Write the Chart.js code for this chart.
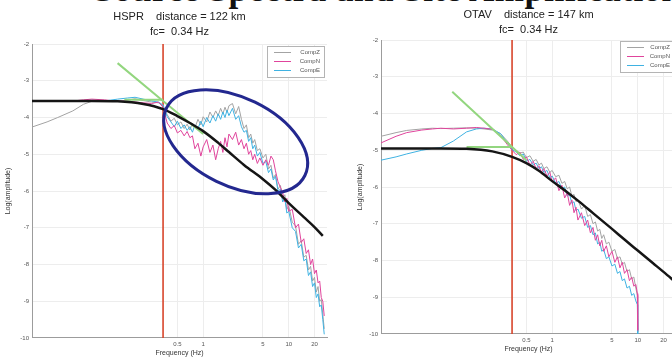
<!DOCTYPE html>
<html>
<head>
<meta charset="utf-8">
<script src="https://cdn.jsdelivr.net/npm/chart.js@4.4.1/dist/chart.umd.min.js"></script>
<style>
  html, body { margin: 0; padding: 0; background: #fff; width: 672px; height: 358px; overflow: hidden; }
  #slideTitle { position: absolute; left: 94px; top: -27px; white-space: nowrap; font: bold 35px "Liberation Serif", serif; line-height: 34px; color: #111; letter-spacing: 0.5px; }
  #hspr { position: absolute; left: 0; top: 0; }
  #otav { position: absolute; left: 350px; top: 0; }
</style>
</head>
<body>
<div id="slideTitle">Source Spectra and Site Amplification</div>
<canvas id="hspr" width="340" height="358"></canvas>
<canvas id="otav" width="340" height="358"></canvas>
<script>
// ---- datos ----
const FC = 0.34;
const FREQ_TICKS = [0.5, 1, 5, 10, 20];
const LEGEND_LABELS = ['CompZ', 'CompN', 'CompE'];

// HSPR (panel izquierdo)
const HSPR_FREQ = [0.01, 0.015, 0.02, 0.03, 0.04, 0.05, 0.07, 0.1, 0.13, 0.16, 0.2, 0.25, 0.3, 0.34,
  0.38, 0.42, 0.46, 0.5, 0.55, 0.6, 0.65, 0.7, 0.75, 0.8, 0.87, 0.94,
  1.0, 1.1, 1.2, 1.3, 1.4, 1.5, 1.6, 1.7, 1.8, 1.9, 2.0, 2.2, 2.4, 2.6, 2.8,
  3.0, 3.2, 3.4, 3.6, 3.8, 4.0, 4.3, 4.6, 5.0, 5.4, 5.8, 6.2, 6.6, 7.0, 7.5, 8.0, 8.5, 9.0, 9.5,
  10, 11, 12, 13, 14, 15, 16, 17, 18, 19, 20, 21, 22, 23, 24, 25, 26];
const HSPR_Z = [-4.26, -4.12, -4.0, -3.82, -3.64, -3.56, -3.54, -3.55, -3.53, -3.49, -3.54, -3.58, -3.6, -3.68,
  -3.92, -4.1, -4.02, -4.2, -4.12, -4.3, -4.18, -4.34, -4.15, -4.28, -4.05, -4.2,
  -3.98, -4.12, -3.85, -4.0, -3.82, -3.95, -3.75, -3.9, -3.72, -3.86, -3.68, -3.62, -3.9, -3.7, -4.05,
  -4.3, -4.2, -4.55, -4.45, -4.7, -4.6, -4.9, -4.85, -5.1, -5.0, -5.4, -5.3, -5.65, -5.55, -5.95, -5.85, -6.2, -6.1, -6.5,
  -6.4, -6.85, -6.95, -7.45, -7.35, -7.8, -7.75, -8.15, -8.05, -8.45, -8.35, -8.75, -8.6, -9.0, -8.95, -9.35, -9.75];
const HSPR_N = [-3.55, -3.55, -3.54, -3.55, -3.52, -3.5, -3.52, -3.56, -3.55, -3.58, -3.6, -3.62, -3.58, -3.72,
  -4.15, -4.3, -4.22, -4.42, -4.35, -4.5, -4.38, -4.55, -4.5, -4.85, -4.7, -5.05,
  -4.8, -4.6, -4.95, -4.75, -5.15, -4.85, -4.65, -4.95, -4.55, -4.8, -4.45, -4.6, -4.4, -4.75, -4.6,
  -4.85, -4.7, -5.0, -4.9, -5.15, -5.0, -5.25, -5.1, -5.3, -5.15, -5.3, -5.05, -5.15, -5.45, -5.75, -5.9, -6.05, -6.3, -6.2,
  -6.55, -6.5, -7.0, -6.9, -7.4, -7.3, -7.7, -7.6, -8.0, -7.85, -8.25, -8.15, -8.5, -8.45, -8.9, -9.0, -9.4];
const HSPR_E = [-3.56, -3.56, -3.55, -3.54, -3.55, -3.53, -3.55, -3.5, -3.47, -3.45, -3.5, -3.55, -3.58, -3.66,
  -3.98, -4.12, -4.25, -4.1, -4.3, -4.2, -4.35, -4.25, -4.4, -4.2, -4.3, -4.1,
  -4.25, -4.0, -4.15, -3.95, -4.1, -3.9, -4.05, -3.85, -4.0, -3.8, -3.95, -3.75, -4.05, -3.95, -4.25,
  -4.4, -4.35, -4.65, -4.55, -4.85, -4.75, -5.05, -4.95, -5.25, -5.2, -5.5, -5.4, -5.7, -5.6, -6.0, -5.95, -6.3, -6.2, -6.6,
  -6.55, -7.0, -7.1, -7.55, -7.45, -7.9, -7.85, -8.3, -8.2, -8.6, -8.5, -8.9, -8.8, -9.15, -9.1, -9.5, -9.9];
const HSPR_MODEL_F = [0.01, 0.05, 0.1, 0.2, 0.34, 0.5, 0.7, 1, 1.5, 2, 3, 5, 7, 10, 15, 20, 25];
const HSPR_MODEL = [-3.55, -3.55, -3.56, -3.63, -3.77, -3.96, -4.15, -4.37, -4.69, -4.94, -5.29, -5.68, -5.97, -6.33, -6.71, -6.98, -7.22];
const HSPR_FLAT_F = [0.12, 0.34];
const HSPR_FLAT = [-3.52, -3.52];
const HSPR_SLOPE_F = [0.1, 0.34, 1.0];
const HSPR_SLOPE = [-2.52, -3.55, -4.45];

// OTAV (panel derecho)
const OTAV_FREQ = [0.01, 0.015, 0.02, 0.03, 0.04, 0.05, 0.07, 0.1, 0.13, 0.16, 0.2, 0.25, 0.3, 0.34,
  0.38, 0.42, 0.46, 0.5, 0.55, 0.6, 0.65, 0.7, 0.75, 0.8, 0.87, 0.94,
  1.0, 1.1, 1.2, 1.3, 1.4, 1.5, 1.6, 1.7, 1.8, 1.9, 2.0, 2.2, 2.4, 2.6, 2.8,
  3.0, 3.2, 3.4, 3.6, 3.8, 4.0, 4.3, 4.6, 5.0, 5.4, 5.8, 6.2, 6.6, 7.0, 7.5, 8.0, 8.5, 9.0, 9.5, 9.9, 10.0];
const OTAV_Z = [-4.62, -4.52, -4.46, -4.42, -4.4, -4.41, -4.4, -4.39, -4.4, -4.42, -4.45, -4.55, -4.75, -4.92,
  -5.0, -5.08, -5.05, -5.2, -5.15, -5.3, -5.25, -5.4, -5.35, -5.5, -5.45, -5.6,
  -5.55, -5.72, -5.68, -5.9, -5.85, -6.05, -6.0, -6.25, -6.2, -6.4, -6.35, -6.6, -6.5, -6.8, -6.75,
  -7.0, -6.95, -7.2, -7.15, -7.4, -7.3, -7.55, -7.5, -7.75, -7.7, -7.95, -7.9, -8.1, -8.05, -8.3, -8.25, -8.5, -8.45, -8.75, -8.95, -9.95];
const OTAV_N = [-4.8, -4.62, -4.52, -4.45, -4.42, -4.4, -4.42, -4.4, -4.38, -4.4, -4.43, -4.6, -4.85, -5.0,
  -5.12, -5.05, -5.25, -5.18, -5.4, -5.3, -5.5, -5.42, -5.6, -5.5, -5.7, -5.6,
  -5.85, -5.75, -6.1, -5.95, -6.3, -6.15, -6.5, -6.35, -6.7, -6.55, -6.9, -6.7, -7.05, -6.9, -7.25,
  -7.1, -7.45, -7.3, -7.6, -7.45, -7.75, -7.6, -7.9, -7.75, -8.05, -7.9, -8.2, -8.05, -8.35, -8.25, -8.55, -8.45, -8.7, -8.65, -8.9, -9.9];
const OTAV_E = [-5.27, -5.18, -5.1, -5.0, -4.95, -4.93, -4.75, -4.5, -4.42, -4.4, -4.42, -4.55, -4.8, -4.98,
  -5.05, -5.15, -5.1, -5.3, -5.25, -5.4, -5.35, -5.5, -5.45, -5.6, -5.55, -5.75,
  -5.7, -5.9, -5.85, -6.05, -6.0, -6.25, -6.2, -6.45, -6.4, -6.65, -6.6, -6.85, -6.8, -7.1, -7.05,
  -7.3, -7.25, -7.55, -7.5, -7.75, -7.7, -7.95, -7.9, -8.15, -8.1, -8.35, -8.3, -8.55, -8.5, -8.75, -8.7, -8.95, -8.9, -9.1, -9.2, -10];
const OTAV_MODEL_F = [0.01, 0.05, 0.1, 0.2, 0.34, 0.5, 0.7, 1, 1.5, 2, 3, 5, 7, 10, 15, 20, 28];
const OTAV_MODEL = [-4.95, -4.95, -4.96, -5.03, -5.18, -5.35, -5.56, -5.84, -6.14, -6.37, -6.71, -7.14, -7.43, -7.73, -8.07, -8.31, -8.6];
const OTAV_FLAT_F = [0.1, 0.34];
const OTAV_FLAT = [-4.91, -4.91];
const OTAV_SLOPE_F = [0.068, 0.34, 0.5];
const OTAV_SLOPE = [-3.41, -4.91, -5.27];

const FONT = '"Liberation Sans", Arial, sans-serif';
Chart.defaults.font.family = FONT;

// Leyenda con recuadro, estilo MATLAB
const boxLegend = {
  id: 'boxLegend',
  afterDraw(chart, args, opts) {
    const ctx = chart.ctx, area = chart.chartArea;
    const items = chart.data.datasets.filter(d => d.inLegend);
    const rowH = 9, w = opts.width, h = items.length * rowH + 4;
    const x0 = Math.round(area.right - opts.right - w), y0 = Math.round(area.top + opts.top);
    ctx.save();
    ctx.fillStyle = '#fff';
    ctx.fillRect(x0, y0, w, h);
    ctx.strokeStyle = '#b4b4b4';
    ctx.lineWidth = 1;
    ctx.strokeRect(x0 + 0.5, y0 + 0.5, w, h);
    ctx.font = '6px ' + FONT;
    ctx.textAlign = 'right';
    ctx.textBaseline = 'middle';
    items.forEach((d, i) => {
      const y = y0 + 2 + rowH * i + rowH / 2;
      ctx.strokeStyle = d.borderColor;
      ctx.beginPath();
      ctx.moveTo(x0 + 7, y);
      ctx.lineTo(x0 + 24, y);
      ctx.stroke();
      ctx.fillStyle = '#555';
      ctx.fillText(d.label, x0 + w - 4, y);
    });
    ctx.restore();
  }
};

// Elipse azul que resalta la zona de amplificación
const ellipseMark = {
  id: 'ellipseMark',
  afterDatasetsDraw(chart, args, opts) {
    if (!opts.show) return;
    const ctx = chart.ctx;
    const cx = chart.scales.x.getPixelForValue(opts.f);
    const cy = chart.scales.y.getPixelForValue(opts.v);
    ctx.save();
    ctx.strokeStyle = '#23288f';
    ctx.lineWidth = 3;
    ctx.beginPath();
    ctx.ellipse(cx, cy, opts.rx, opts.ry, opts.rot * Math.PI / 180, 0, Math.PI * 2);
    ctx.stroke();
    ctx.restore();
  }
};

function spectrumPanel(canvasId, cfg) {
  const pts = (xs, ys) => xs.map((x, i) => ({ x, y: ys[i] }));
  const line = (label, xs, ys, color, width, order, extra) => Object.assign({
    label, data: pts(xs, ys), borderColor: color, backgroundColor: color,
    borderWidth: width, pointRadius: 0, fill: false, tension: 0, order
  }, extra || {});

  const datasets = [
    line(LEGEND_LABELS[0], cfg.freq, cfg.z, '#a3a3a3', 1, 4, { inLegend: true }),
    line(LEGEND_LABELS[1], cfg.freq, cfg.n, '#e0449c', 1, 2, { inLegend: true }),
    line(LEGEND_LABELS[2], cfg.freq, cfg.e, '#3fb2e2', 1, 3, { inLegend: true }),
    line('model', cfg.modelF, cfg.model, '#151515', 2.5, 0, { cubicInterpolationMode: 'monotone' }),
    line('flat', cfg.flatF, cfg.flat, '#93d67f', 2, 1),
    line('slope', cfg.slopeF, cfg.slope, '#93d67f', 2, 1),
    line('fc', [FC, FC], [-10, -2], '#d8452c', 1.6, 5)
  ];

  return new Chart(document.getElementById(canvasId), {
    type: 'line',
    data: { datasets },
    options: {
      responsive: false,
      animation: false,
      devicePixelRatio: 1,
      layout: { padding: { left: 0, top: 0, right: cfg.padRight, bottom: 0 } },
      plugins: {
        legend: { display: false },
        tooltip: { enabled: false },
        title: {
          display: true, text: cfg.title, fullSize: false, color: '#222',
          font: { size: 11, weight: 'normal', lineHeight: 1.364 },
          padding: { top: cfg.titleTop, bottom: cfg.titleBottom }
        },
        boxLegend: { width: cfg.legendW, right: cfg.legendRight, top: cfg.legendTop },
        ellipseMark: cfg.ellipse || { show: false }
      },
      scales: {
        x: {
          type: 'logarithmic', min: 0.01, max: 28, bounds: 'data',
          afterBuildTicks: s => { s.ticks = FREQ_TICKS.map(v => ({ value: v })); },
          afterFit: s => { s.height = cfg.xAxisH; },
          ticks: { callback: v => String(v), autoSkip: false, maxRotation: 0, padding: 3, color: '#555', font: { size: 6 } },
          grid: { color: '#ededed', drawTicks: false },
          border: { color: '#9c9c9c' },
          title: { display: true, text: 'Frequency (Hz)', color: '#333', font: { size: 7 }, padding: { top: 0, bottom: cfg.xTitlePad } }
        },
        y: {
          min: -10, max: -2,
          afterFit: s => { s.width = cfg.yAxisW; },
          ticks: { stepSize: 1, padding: 3, color: '#555', font: { size: 6 } },
          grid: { color: '#ededed', drawTicks: false },
          border: { color: '#9c9c9c' },
          title: { display: true, text: 'Log(amplitude)', color: '#333', font: { size: 7 }, padding: { top: cfg.yTitlePad, bottom: 0 } }
        }
      }
    },
    plugins: [boxLegend, ellipseMark]
  });
}

spectrumPanel('hspr', {
  freq: HSPR_FREQ, z: HSPR_Z, n: HSPR_N, e: HSPR_E,
  modelF: HSPR_MODEL_F, model: HSPR_MODEL,
  flatF: HSPR_FLAT_F, flat: HSPR_FLAT, slopeF: HSPR_SLOPE_F, slope: HSPR_SLOPE,
  title: ['HSPR    distance = 122 km', 'fc=  0.34 Hz'],
  titleTop: 9.5, titleBottom: 4.5, padRight: 13,
  xAxisH: 20, xTitlePad: 1, yAxisW: 32, yTitlePad: 4,
  legendW: 57, legendRight: 3, legendTop: 2,
  ellipse: { show: true, f: 2.4, v: -4.66, rx: 77, ry: 44, rot: 26 }
});

spectrumPanel('otav', {
  freq: OTAV_FREQ, z: OTAV_Z, n: OTAV_N, e: OTAV_E,
  modelF: OTAV_MODEL_F, model: OTAV_MODEL,
  flatF: OTAV_FLAT_F, flat: OTAV_FLAT, slopeF: OTAV_SLOPE_F, slope: OTAV_SLOPE,
  title: ['OTAV    distance = 147 km', 'fc=  0.34 Hz'],
  titleTop: 7.5, titleBottom: 2.5, padRight: 14,
  xAxisH: 24, xTitlePad: 5, yAxisW: 31, yTitlePad: 6,
  legendW: 54, legendRight: 2, legendTop: 1
});
</script>
</body>
</html>
